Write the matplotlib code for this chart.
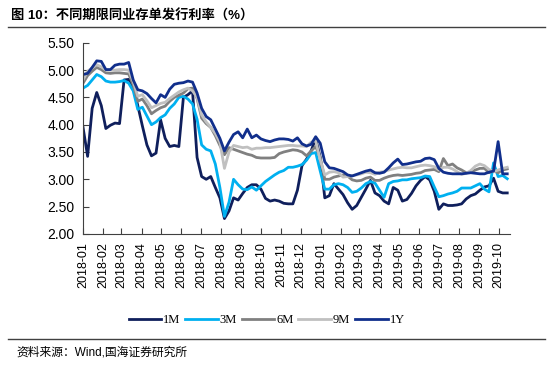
import matplotlib.pyplot as plt
import pandas as pd

plt.rcParams['font.family'] = ['Liberation Sans', 'Noto Sans CJK SC']

# weekly issuance rates (%), Jan 2018 - Oct 2019
dates = pd.date_range('2018-01-01', periods=94, freq='7D')

r_1m = [3.95, 3.42, 4.30, 4.59, 4.35, 3.93, 3.99, 4.03, 4.02, 4.82,
        4.83, 4.70, 4.35, 3.98, 3.63, 3.43, 3.48, 4.09, 3.75, 3.60,
        3.62, 3.60, 4.50, 4.55, 4.62, 3.40, 3.05, 3.00, 3.05, 2.85,
        2.66, 2.28, 2.42, 2.66, 2.62, 2.74, 2.85, 2.90, 2.90, 2.82,
        2.65, 2.60, 2.62, 2.60, 2.56, 2.55, 2.55, 2.80, 3.25, 3.37,
        3.52, 3.75, 3.40, 2.66, 2.70, 2.92, 2.82, 2.72, 2.57, 2.45,
        2.52, 2.67, 2.82, 2.98, 2.75, 2.70, 2.60, 2.55, 2.85, 2.80,
        2.60, 2.63, 2.74, 2.88, 2.98, 3.05, 2.99, 2.78, 2.45, 2.55,
        2.52, 2.52, 2.53, 2.55, 2.64, 2.70, 2.73, 2.80, 2.86, 2.88,
        3.02, 2.78, 2.75, 2.75]

r_3m = [4.67, 4.72, 4.82, 4.92, 4.88, 4.80, 4.78, 4.78, 4.79, 4.81,
        4.76, 4.62, 4.28, 4.32, 4.16, 4.00, 4.05, 4.13, 4.18, 4.30,
        4.38, 4.50, 4.52, 4.47, 4.38, 4.10, 3.63, 3.55, 3.52, 3.28,
        2.85, 2.32, 2.58, 3.00, 2.90, 2.82, 2.81, 2.86, 2.80, 2.88,
        2.96, 3.02, 3.08, 3.13, 3.16, 3.22, 3.22, 3.24, 3.27, 3.35,
        3.47, 3.49, 3.15, 2.82, 2.82, 2.90, 2.92, 2.90, 2.85, 2.76,
        2.78, 2.84, 2.92, 2.96, 2.93, 2.80, 2.67, 2.92, 2.96, 2.97,
        2.99, 2.99, 3.01, 3.02, 3.03, 3.06, 3.05, 2.86, 2.68, 2.70,
        2.73, 2.75, 2.78, 2.84, 2.84, 2.84, 2.88, 2.92, 2.82, 2.77,
        3.30, 3.05, 3.07, 3.01]

r_6m = [4.76, 4.90, 4.98, 5.05, 5.01, 4.95, 4.94, 4.95, 4.95, 4.94,
        4.93, 4.73, 4.43, 4.47, 4.35, 4.20, 4.26, 4.31, 4.34, 4.43,
        4.50, 4.54, 4.58, 4.66, 4.67, 4.48, 4.12, 4.02, 3.95, 3.80,
        3.62, 3.45, 3.58, 3.55, 3.52, 3.49, 3.46, 3.44, 3.40, 3.39,
        3.39, 3.39, 3.40, 3.47, 3.50, 3.52, 3.54, 3.53, 3.50, 3.43,
        3.52, 3.60, 3.40, 3.00, 3.00, 3.04, 3.06, 3.08, 3.06, 2.99,
        2.97, 2.98, 3.02, 3.04, 2.98, 2.98, 3.02, 3.05, 3.07, 3.08,
        3.07, 3.08, 3.09, 3.11, 3.12, 3.16, 3.17, 3.18, 3.14, 3.38,
        3.25, 3.28, 3.21, 3.17, 3.12, 3.13, 3.17, 3.20, 3.20, 3.12,
        3.16, 3.12, 3.17, 3.19]

r_9m = [4.82, 4.98, 5.04, 5.10, 5.06, 5.00, 5.00, 5.00, 5.01, 5.01,
        5.00, 4.79, 4.52, 4.55, 4.44, 4.31, 4.35, 4.39, 4.41, 4.48,
        4.54, 4.60, 4.64, 4.67, 4.62, 4.50, 4.18, 4.05, 3.95, 3.84,
        3.68, 3.20, 3.50, 3.62, 3.60, 3.58, 3.59, 3.55, 3.57, 3.57,
        3.58, 3.58, 3.59, 3.60, 3.61, 3.62, 3.62, 3.61, 3.61, 3.60,
        3.68, 3.71, 3.35, 3.08, 3.13, 3.14, 3.12, 3.04, 3.05, 3.07,
        3.08, 3.10, 3.13, 3.12, 3.09, 3.13, 3.14, 3.17, 3.19, 3.21,
        3.22, 3.21, 3.21, 3.23, 3.25, 3.26, 3.25, 3.23, 3.17, 3.22,
        3.22, 3.19, 3.14, 3.09, 3.11, 3.16, 3.24, 3.28, 3.25, 3.18,
        3.14, 3.17, 3.20, 3.22]

r_1y = [4.92, 4.94, 5.05, 5.17, 5.16, 5.01, 5.01, 5.09, 5.11, 5.11,
        5.14, 4.82, 4.64, 4.62, 4.57, 4.48, 4.40, 4.55, 4.50, 4.65,
        4.74, 4.76, 4.77, 4.80, 4.78, 4.58, 4.30, 4.15, 4.09, 3.92,
        3.75, 3.52, 3.68, 3.82, 3.87, 3.76, 3.92, 3.76, 3.81, 3.74,
        3.71, 3.69, 3.72, 3.74, 3.74, 3.73, 3.70, 3.76, 3.65, 3.61,
        3.64, 3.78, 3.66, 3.32, 3.21, 3.20, 3.17, 3.14, 3.08, 3.06,
        3.09, 3.12, 3.15, 3.17, 3.12, 3.11, 3.13, 3.21, 3.30, 3.37,
        3.27, 3.28, 3.30, 3.32, 3.33, 3.38, 3.39, 3.36, 3.20, 3.13,
        3.11, 3.10, 3.10, 3.10, 3.11, 3.12, 3.11, 3.10, 3.10, 3.13,
        3.15, 3.69, 3.10, 3.10]

series = [('1M', r_1m, '#0f1f5c'), ('3M', r_3m, '#00b0f0'),
          ('6M', r_6m, '#808080'), ('9M', r_9m, '#c0c0c0'),
          ('1Y', r_1y, '#112f8c')]

fig = plt.figure(figsize=(5.5, 3.66), dpi=100)
ax = fig.add_axes([0.151, 0.361, 0.776, 0.522])

for name, vals, color in series:
    ax.plot(dates, vals, color=color, lw=2, label=name)

ax.set_xlim(dates[0], dates[-1] + pd.Timedelta(days=4))
ax.set_ylim(2, 5.5)
ax.set_yticks([2, 2.5, 3, 3.5, 4, 4.5, 5, 5.5])
ax.set_yticklabels([f'{v:.2f}' for v in ax.get_yticks()], fontsize=10)

months = pd.date_range('2018-01-01', '2019-10-01', freq='MS')
ax.set_xticks(months)
ax.set_xticklabels([m.strftime('%Y-%m') for m in months], rotation=90, fontsize=9)

ax.tick_params(direction='in', length=4, color='#404040', pad=6)
for s in ['top', 'right']:
    ax.spines[s].set_visible(False)
for s in ['left', 'bottom']:
    ax.spines[s].set_color('#404040')

ax.legend(loc='upper center', bbox_to_anchor=(0.43, -0.36), ncol=5, frameon=False,
          handlelength=2.6, columnspacing=0.4, handletextpad=0.15,
          prop={'family': 'Liberation Serif', 'size': 9})

fig.text(0.02, 0.955, '图 10：不同期限同业存单发行利率（%）', fontsize=9.5,
         fontweight='bold', va='center')
fig.add_artist(plt.Line2D([0.015, 0.99], [0.925, 0.925], color='#404040', lw=1))
fig.add_artist(plt.Line2D([0.015, 0.99], [0.073, 0.073], color='#404040', lw=1))
fig.text(0.03, 0.038, '资料来源：Wind,国海证券研究所', fontsize=8.5, va='center')

fig.savefig('out.png')
